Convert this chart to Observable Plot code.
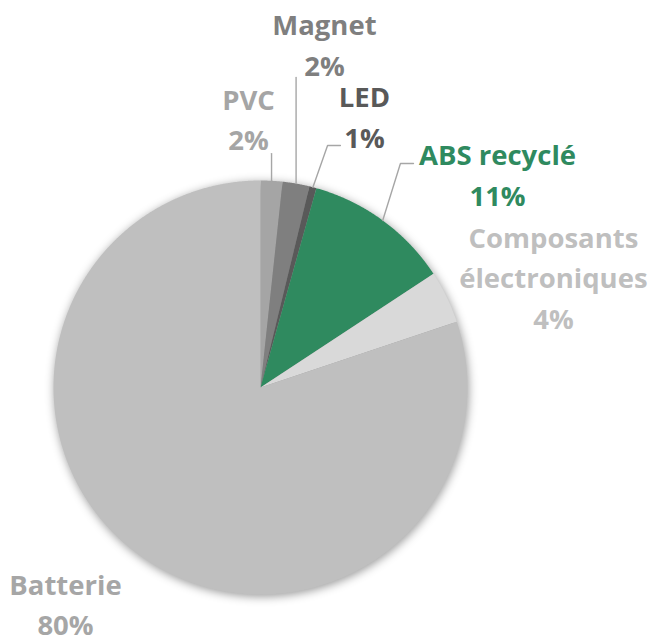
<!DOCTYPE html>
<html><head><meta charset="utf-8">
<script src="https://cdn.jsdelivr.net/npm/d3@7"></script>
<script src="https://cdn.jsdelivr.net/npm/@observablehq/plot@0.6"></script>
<style>
html,body{margin:0;padding:0;background:#fff;}
#chart{width:654px;height:643px;}
</style></head>
<body><div id="chart"></div>
<script>
// ---- data ----
const categories = ["PVC", "Magnet", "LED", "ABS recyclé", "Composants\nélectroniques", "Batterie"];
const values = [1.7, 2.1, 0.55, 11.4, 4.1, 80.15];
const sliceColors = ["#a5a5a5", "#7f7f7f", "#595959", "#2f8a5f", "#d9d9d9", "#bfbfbf"];
const labelColors = ["#a5a5a5", "#7f7f7f", "#595959", "#2f8a5f", "#bfbfbf", "#a6a6a6"];

// ---- layout (unit-radius coordinates) ----
const labelAnchors = [[-0.058, 1.145], [0.309, 1.507], [0.502, 1.159], [1.145, 0.879], [1.415, 0.285], [-0.942, -1.198]];
const leaders = [
  {slice: 0, bend: null, end: [null, 1.130]},
  {slice: 1, bend: null, end: [null, 1.498]},
  {slice: 2, bend: [0.324, 1.169], end: [0.386, 1.169]},
  {slice: 3, bend: [0.676, 1.082], end: [0.739, 1.082]}
];

const arcs = d3.pie().sort(null).startAngle(0).endAngle(2 * Math.PI)(values);

const slicePts = [];
arcs.forEach((a, i) => {
  const cat = categories[i];
  slicePts.push({cat, x: 0, y: 0});
  const n = Math.max(2, Math.ceil((a.endAngle - a.startAngle) / 0.004));
  for (let k = 0; k <= n; k++) {
    const t = a.startAngle + (a.endAngle - a.startAngle) * k / n;
    slicePts.push({cat, x: Math.sin(t), y: Math.cos(t)});
  }
  slicePts.push({cat, x: 0, y: 0});
});

const leaderPts = [];
leaders.forEach((l, j) => {
  const a = arcs[l.slice];
  const m = (a.startAngle + a.endAngle) / 2;
  const sx = Math.sin(m), sy = Math.cos(m);
  leaderPts.push({id: j, x: sx, y: sy});
  if (l.bend) leaderPts.push({id: j, x: l.bend[0], y: l.bend[1]});
  leaderPts.push({id: j, x: l.end[0] == null ? sx : l.end[0], y: l.end[1]});
});

const textMarks = categories.map((c, i) => Plot.text(
  [{x: labelAnchors[i][0], y: labelAnchors[i][1], t: c + "\n" + Math.round(values[i]) + "%"}],
  {x: "x", y: "y", text: "t", fill: labelColors[i], fontSize: 27.5, fontWeight: 700,
   lineAnchor: "bottom", lineHeight: 1.47, textAnchor: "middle"}
));

const chart = Plot.plot({
  width: 654, height: 643, margin: 0,
  x: {domain: [-1, 1], range: [53, 467], axis: null},
  y: {domain: [-1, 1], range: [594, 180], axis: null},
  color: {domain: categories, range: sliceColors},
  style: {fontFamily: "'Open Sans', sans-serif", background: "transparent", overflow: "visible"},
  marks: [
    Plot.line(slicePts, {x: "x", y: "y", z: "cat", fill: "cat", stroke: "none", curve: "linear"}),
    Plot.line(leaderPts, {x: "x", y: "y", z: "id", stroke: "#a6a6a6", strokeWidth: 1.4}),
    ...textMarks
  ]
});
const g = chart.querySelector('g[aria-label="line"]');
if (g) g.style.filter = "drop-shadow(1px 2px 5px rgba(0,0,0,0.4))";
document.getElementById("chart").appendChild(chart);
</script>
</body></html>
